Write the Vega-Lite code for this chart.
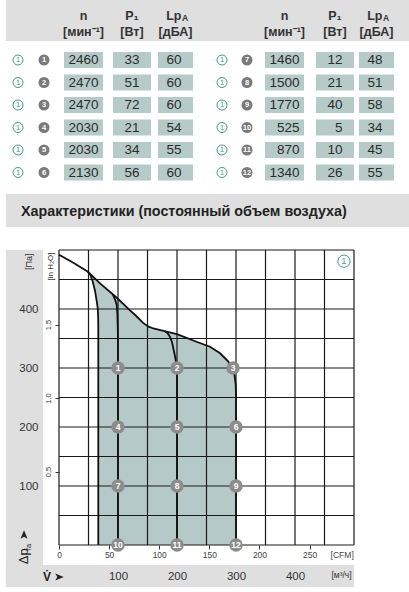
{
  "$schema": "https://vega.github.io/schema/vega-lite/v6.json",
  "width": 295,
  "height": 295,
  "autosize": {"type": "none"},
  "padding": {"left": 59, "top": 250, "right": 55, "bottom": 47},
  "background": "white",
  "config": {
    "view": {"stroke": null},
    "font": "Liberation Sans, Arial, sans-serif",
    "text": {"font": "Liberation Sans, Arial, sans-serif"}
  },
  "datasets": {
    "grid": [{"v":0},{"v":50},{"v":100},{"v":150},{"v":200},{"v":250},{"v":300},{"v":350},{"v":400},{"v":450},{"v":500}],
    "shade": [
      {"q":49,"t":463,"b":463},{"q":53,"t":459,"b":458},{"q":57,"t":455.5,"b":447},{"q":61,"t":451.5,"b":431},
      {"q":63.5,"t":449,"b":416},{"q":65.6,"t":447,"b":402},{"q":66.4,"t":446,"b":385},{"q":66.6,"t":446,"b":0},
      {"q":70,"t":443,"b":0},{"q":98,"t":419,"b":0},{"q":120,"t":398,"b":0},{"q":130,"t":389,"b":0},
      {"q":143,"t":376,"b":0},{"q":152,"t":370,"b":0},{"q":160,"t":367,"b":0},{"q":177,"t":363,"b":0},
      {"q":200,"t":357.5,"b":0},{"q":233,"t":344.5,"b":0},{"q":256,"t":336,"b":0},{"q":273,"t":325,"b":0},
      {"q":287,"t":311,"b":0},{"q":294,"t":298,"b":0},{"q":297.5,"t":288,"b":0},{"q":299.5,"t":272,"b":0},{"q":300,"t":255,"b":0}
    ],
    "curves": [
      {"s":"env","q":0,"p":492},{"s":"env","q":25,"p":478},{"s":"env","q":49,"p":463},{"s":"env","q":70,"p":443},
      {"s":"env","q":98,"p":419},{"s":"env","q":120,"p":398},{"s":"env","q":130,"p":389},{"s":"env","q":143,"p":376},
      {"s":"env","q":152,"p":370},{"s":"env","q":160,"p":367},{"s":"env","q":177,"p":363},{"s":"env","q":200,"p":357.5},
      {"s":"env","q":233,"p":344.5},{"s":"env","q":256,"p":336},{"s":"env","q":273,"p":325},{"s":"env","q":287,"p":311},
      {"s":"env","q":294,"p":298},{"s":"env","q":297.5,"p":288},{"s":"env","q":299.5,"p":272},{"s":"env","q":300,"p":255},{"s":"env","q":300,"p":0},
      {"s":"min","q":49,"p":463},{"s":"min","q":53,"p":458},{"s":"min","q":57,"p":447},{"s":"min","q":61,"p":431},
      {"s":"min","q":63.5,"p":416},{"s":"min","q":65.6,"p":402},{"s":"min","q":66.4,"p":385},{"s":"min","q":66.6,"p":365},{"s":"min","q":66.6,"p":0},
      {"s":"c1","q":91,"p":425},{"s":"c1","q":95,"p":416},{"s":"c1","q":97.8,"p":407},{"s":"c1","q":99,"p":390},
      {"s":"c1","q":99.6,"p":368},{"s":"c1","q":100,"p":340},{"s":"c1","q":100,"p":0},
      {"s":"c2","q":179,"p":362.5},{"s":"c2","q":184,"p":359},{"s":"c2","q":188,"p":353},{"s":"c2","q":191.5,"p":344},
      {"s":"c2","q":193.8,"p":333},{"s":"c2","q":197,"p":318},{"s":"c2","q":199,"p":305},{"s":"c2","q":199.8,"p":295},
      {"s":"c2","q":200,"p":280},{"s":"c2","q":200,"p":0}
    ],
    "ops": [
      {"pt":1,"q":100,"p":300},{"pt":2,"q":200,"p":300},{"pt":3,"q":295,"p":300},
      {"pt":4,"q":100,"p":200},{"pt":5,"q":200,"p":200},{"pt":6,"q":300,"p":200},
      {"pt":7,"q":100,"p":100},{"pt":8,"q":200,"p":100},{"pt":9,"q":300,"p":100},
      {"pt":10,"q":100,"p":0},{"pt":11,"q":200,"p":0},{"pt":12,"q":300,"p":0}
    ],
    "tv": [
      {"row":1,"col":3,"key":"n","txt":"2460"},{"row":1,"col":4,"key":"p","txt":"33"},{"row":1,"col":5,"key":"l","txt":"60"},
      {"row":2,"col":3,"key":"n","txt":"2470"},{"row":2,"col":4,"key":"p","txt":"51"},{"row":2,"col":5,"key":"l","txt":"60"},
      {"row":3,"col":3,"key":"n","txt":"2470"},{"row":3,"col":4,"key":"p","txt":"72"},{"row":3,"col":5,"key":"l","txt":"60"},
      {"row":4,"col":3,"key":"n","txt":"2030"},{"row":4,"col":4,"key":"p","txt":"21"},{"row":4,"col":5,"key":"l","txt":"54"},
      {"row":5,"col":3,"key":"n","txt":"2030"},{"row":5,"col":4,"key":"p","txt":"34"},{"row":5,"col":5,"key":"l","txt":"55"},
      {"row":6,"col":3,"key":"n","txt":"2130"},{"row":6,"col":4,"key":"p","txt":"56"},{"row":6,"col":5,"key":"l","txt":"60"},
      {"row":1,"col":8,"key":"n","txt":"1460"},{"row":1,"col":9,"key":"p","txt":"12"},{"row":1,"col":10,"key":"l","txt":"48"},
      {"row":2,"col":8,"key":"n","txt":"1500"},{"row":2,"col":9,"key":"p","txt":"21"},{"row":2,"col":10,"key":"l","txt":"51"},
      {"row":3,"col":8,"key":"n","txt":"1770"},{"row":3,"col":9,"key":"p","txt":"40"},{"row":3,"col":10,"key":"l","txt":"58"},
      {"row":4,"col":8,"key":"n","txt":"525"},{"row":4,"col":9,"key":"p","txt":"5"},{"row":4,"col":10,"key":"l","txt":"34"},
      {"row":5,"col":8,"key":"n","txt":"870"},{"row":5,"col":9,"key":"p","txt":"10"},{"row":5,"col":10,"key":"l","txt":"45"},
      {"row":6,"col":8,"key":"n","txt":"1340"},{"row":6,"col":9,"key":"p","txt":"26"},{"row":6,"col":10,"key":"l","txt":"55"}
    ],
    "badges": [
      {"row":1,"col":2,"pt":1},{"row":2,"col":2,"pt":2},{"row":3,"col":2,"pt":3},{"row":4,"col":2,"pt":4},{"row":5,"col":2,"pt":5},{"row":6,"col":2,"pt":6},
      {"row":1,"col":7,"pt":7},{"row":2,"col":7,"pt":8},{"row":3,"col":7,"pt":9},{"row":4,"col":7,"pt":10},{"row":5,"col":7,"pt":11},{"row":6,"col":7,"pt":12}
    ],
    "icons": [
      {"row":1,"col":1},{"row":2,"col":1},{"row":3,"col":1},{"row":4,"col":1},{"row":5,"col":1},{"row":6,"col":1},
      {"row":1,"col":6},{"row":2,"col":6},{"row":3,"col":6},{"row":4,"col":6},{"row":5,"col":6},{"row":6,"col":6}
    ],
    "th": [
      {"row":-1,"col":3,"txt":"n"},{"row":0,"col":3,"txt":"[мин⁻¹]"},
      {"row":-1,"col":4,"txt":"P₁"},{"row":0,"col":4,"txt":"[Вт]"},
      {"row":0,"col":5,"txt":"[дБА]"},
      {"row":-1,"col":8,"txt":"n"},{"row":0,"col":8,"txt":"[мин⁻¹]"},
      {"row":-1,"col":9,"txt":"P₁"},{"row":0,"col":9,"txt":"[Вт]"},
      {"row":0,"col":10,"txt":"[дБА]"}
    ],
    "thl": [{"row":-1,"col":5},{"row":-1,"col":10}]
  },
  "resolve": {"scale": {"x": "independent", "y": "independent"}},
  "layer": [
    {
      "layer": [
        {"data":{"values":[{}]},"mark":{"type":"rect","color":"#dfdfdf"},
         "encoding":{"x":{"datum":-90,"type":"quantitative","scale":{"domain":[0,500],"nice":false,"zero":false},"axis":null},"x2":{"datum":600},
                     "y":{"datum":930,"type":"quantitative","scale":{"domain":[0,500],"nice":false,"zero":false},"axis":null},"y2":{"datum":854.2}}},
        {"data":{"values":[{}]},"mark":{"type":"rect","color":"#dfdfdf"},
         "encoding":{"x":{"datum":-90,"type":"quantitative","scale":{"domain":[0,500],"nice":false,"zero":false},"axis":null},"x2":{"datum":600},
                     "y":{"datum":594.9,"type":"quantitative","scale":{"domain":[0,500],"nice":false,"zero":false},"axis":null},"y2":{"datum":539}}},
        {"data":{"values":[{}]},"mark":{"type":"rect","color":"#dfdfdf"},
         "encoding":{"x":{"datum":-90,"type":"quantitative","scale":{"domain":[0,500],"nice":false,"zero":false},"axis":null},"x2":{"datum":-27.1},
                     "y":{"datum":500,"type":"quantitative","scale":{"domain":[0,500],"nice":false,"zero":false},"axis":null},"y2":{"datum":-71.2}}},
        {"data":{"values":[{}]},"mark":{"type":"rect","color":"#dfdfdf"},
         "encoding":{"x":{"datum":-90,"type":"quantitative","scale":{"domain":[0,500],"nice":false,"zero":false},"axis":null},"x2":{"datum":500},
                     "y":{"datum":-33.9,"type":"quantitative","scale":{"domain":[0,500],"nice":false,"zero":false},"axis":null},"y2":{"datum":-71.2}}},
        {"data":{"name":"shade"},"mark":{"type":"area","color":"#b5cac8","opacity":1},
         "encoding":{"x":{"field":"q","type":"quantitative","scale":{"domain":[0,500],"nice":false,"zero":false},"axis":null},
                     "y":{"field":"t","type":"quantitative","scale":{"domain":[0,500],"nice":false,"zero":false},"axis":null},
                     "y2":{"field":"b"}}},
        {"data":{"name":"grid"},"mark":{"type":"rule","color":"#1a1a1a","strokeWidth":1.2},
         "encoding":{"x":{"field":"v","type":"quantitative","scale":{"domain":[0,500],"nice":false,"zero":false},"axis":null}}},
        {"data":{"name":"grid"},"mark":{"type":"rule","color":"#1a1a1a","strokeWidth":1.2},
         "encoding":{"y":{"field":"v","type":"quantitative","scale":{"domain":[0,500],"nice":false,"zero":false},"axis":null}}},
        {"data":{"name":"curves"},"mark":{"type":"line","color":"#111111","strokeWidth":1.8},
         "encoding":{"x":{"field":"q","type":"quantitative","scale":{"domain":[0,500],"nice":false,"zero":false},"axis":null},
                     "y":{"field":"p","type":"quantitative","scale":{"domain":[0,500],"nice":false,"zero":false},"axis":null},
                     "detail":{"field":"s","type":"nominal"},"order":{"value":null}}},
        {"data":{"name":"ops"},"mark":{"type":"point","shape":"circle","filled":true,"size":180,"color":"#8c8c8c","opacity":1},
         "encoding":{"x":{"field":"q","type":"quantitative","scale":{"domain":[0,500],"nice":false,"zero":false},"axis":null},
                     "y":{"field":"p","type":"quantitative","scale":{"domain":[0,500],"nice":false,"zero":false},"axis":null}}},
        {"data":{"name":"ops"},"mark":{"type":"text","color":"white","fontSize":8.5,"fontWeight":"bold","baseline":"middle","align":"center"},
         "encoding":{"x":{"field":"q","type":"quantitative","scale":{"domain":[0,500],"nice":false,"zero":false},"axis":null},
                     "y":{"field":"p","type":"quantitative","scale":{"domain":[0,500],"nice":false,"zero":false},"axis":null},
                     "text":{"field":"pt","type":"nominal"}}},
        {"data":{"values":[{}]},"mark":{"type":"point","shape":"circle","filled":true,"fill":"white","stroke":"#3f9a82","strokeWidth":1,"size":150,"opacity":1},
         "encoding":{"x":{"datum":483,"type":"quantitative","scale":{"domain":[0,500],"nice":false,"zero":false},"axis":null},
                     "y":{"datum":481,"type":"quantitative","scale":{"domain":[0,500],"nice":false,"zero":false},"axis":null}}},
        {"data":{"values":[{}]},"mark":{"type":"text","color":"#3f9a82","fontSize":8.5,"baseline":"middle","align":"center","text":"1"},
         "encoding":{"x":{"datum":483,"type":"quantitative","scale":{"domain":[0,500],"nice":false,"zero":false},"axis":null},
                     "y":{"datum":481,"type":"quantitative","scale":{"domain":[0,500],"nice":false,"zero":false},"axis":null}}},
        {"data":{"values":[{}]},"mark":{"type":"text","color":"#222222","fontSize":14.3,"fontWeight":"bold","baseline":"middle","align":"left","text":"Характеристики (постоянный объем воздуха)"},
         "encoding":{"x":{"datum":-64.4,"type":"quantitative","scale":{"domain":[0,500],"nice":false,"zero":false},"axis":null},
                     "y":{"datum":564.4,"type":"quantitative","scale":{"domain":[0,500],"nice":false,"zero":false},"axis":null}}},
        {"data":{"values":[{}]},"mark":{"type":"text","color":"#222222","fontSize":13,"angle":270,"baseline":"middle","align":"center","text":"Δp"},
         "encoding":{"x":{"datum":-59.3,"type":"quantitative","scale":{"domain":[0,500],"nice":false,"zero":false},"axis":null},
                     "y":{"datum":-19,"type":"quantitative","scale":{"domain":[0,500],"nice":false,"zero":false},"axis":null}}},
        {"data":{"values":[{}]},"mark":{"type":"text","color":"#222222","fontSize":7.5,"angle":270,"baseline":"middle","align":"center","text":"fa"},
         "encoding":{"x":{"datum":-50.8,"type":"quantitative","scale":{"domain":[0,500],"nice":false,"zero":false},"axis":null},
                     "y":{"datum":-3.4,"type":"quantitative","scale":{"domain":[0,500],"nice":false,"zero":false},"axis":null}}},
        {"data":{"values":[{}]},"mark":{"type":"point","shape":"M0,-1L0.75,0.8L0,0.35L-0.75,0.8Z","filled":true,"size":90,"color":"#222222","opacity":1},
         "encoding":{"x":{"datum":-59.3,"type":"quantitative","scale":{"domain":[0,500],"nice":false,"zero":false},"axis":null},
                     "y":{"datum":16.9,"type":"quantitative","scale":{"domain":[0,500],"nice":false,"zero":false},"axis":null}}},
        {"data":{"values":[{}]},"mark":{"type":"text","color":"#222222","fontSize":12,"fontWeight":"bold","baseline":"middle","align":"center","text":"V̇"},
         "encoding":{"x":{"datum":-20.3,"type":"quantitative","scale":{"domain":[0,500],"nice":false,"zero":false},"axis":null},
                     "y":{"datum":-54.2,"type":"quantitative","scale":{"domain":[0,500],"nice":false,"zero":false},"axis":null}}},
        {"data":{"values":[{}]},"mark":{"type":"point","shape":"M1,0L-0.8,0.75L-0.35,0L-0.8,-0.75Z","filled":true,"size":90,"color":"#222222","opacity":1},
         "encoding":{"x":{"datum":0,"type":"quantitative","scale":{"domain":[0,500],"nice":false,"zero":false},"axis":null},
                     "y":{"datum":-54.2,"type":"quantitative","scale":{"domain":[0,500],"nice":false,"zero":false},"axis":null}}}
      ]
    },
    {
      "data": {"values": [{"pa": 0}, {"pa": 500}]},
      "mark": {"type": "point", "opacity": 0},
      "encoding": {
        "y": {"field": "pa", "type": "quantitative", "scale": {"domain": [0, 500], "nice": false, "zero": false},
              "axis": {"zindex": 1, "orient": "left", "values": [100, 200, 300, 400], "domain": false, "ticks": false, "tickSize": 0, "grid": false,
                       "labelFontSize": 11.5, "labelColor": "#333333", "labelPadding": 21, "labelOverlap": false, "labelBaseline": "middle", "labelFlush": false,
                       "title": "[Па]", "titleFontSize": 9, "titleFontWeight": "normal", "titleColor": "#333333", "titleAngle": -90,
                       "titleX": -31, "titleY": 3, "titleAlign": "right", "titleBaseline": "middle"}}
      }
    },
    {
      "data": {"values": [{"h": 0}, {"h": 2.0073}]},
      "mark": {"type": "point", "opacity": 0},
      "encoding": {
        "y": {"field": "h", "type": "quantitative", "scale": {"domain": [0, 2.0073], "nice": false, "zero": false},
              "axis": {"zindex": 1, "orient": "left", "values": [0.5, 1, 1.5], "labelExpr": "replace(format(datum.value, '.1f'), '.', ',')",
                       "domain": false, "grid": false, "ticks": true, "tickSize": 4, "tickColor": "#333333", "tickWidth": 1,
                       "labelAngle": -90, "labelAlign": "center", "labelBaseline": "bottom", "labelFontSize": 7.5, "labelColor": "#333333",
                       "labelPadding": 3, "labelOverlap": false, "labelFlush": false,
                       "title": "[in H₂O]", "titleFontSize": 8, "titleFontWeight": "normal", "titleColor": "#333333", "titleAngle": -90,
                       "titleX": -9, "titleY": 2, "titleAlign": "right", "titleBaseline": "middle"}}
      }
    },
    {
      "data": {"values": [{"c": 0}, {"c": 294.29}]},
      "mark": {"type": "point", "opacity": 0},
      "encoding": {
        "x": {"field": "c", "type": "quantitative", "scale": {"domain": [0, 294.29], "nice": false, "zero": false},
              "axis": {"zindex": 1, "orient": "bottom", "values": [0, 50, 100, 150, 200, 250, 282],
                       "labelExpr": "datum.value > 260 ? '[CFM]' : datum.label",
                       "domain": false, "grid": false, "ticks": true, "tickSize": 4, "tickColor": "#333333", "tickWidth": 1,
                       "tickOpacity": {"condition": {"test": "datum.value > 260", "value": 0}, "value": 1},
                       "labelFontSize": 8.5, "labelColor": "#444444", "labelPadding": 1, "labelOverlap": false, "labelFlush": false, "title": null}}
      }
    },
    {
      "data": {"values": [{"q": 0}, {"q": 500}]},
      "mark": {"type": "point", "opacity": 0},
      "encoding": {
        "x": {"field": "q", "type": "quantitative", "scale": {"domain": [0, 500], "nice": false, "zero": false},
              "axis": {"zindex": 1, "orient": "bottom", "values": [100, 200, 300, 400, 478],
                       "labelExpr": "datum.value > 450 ? '[м³/ч]' : datum.label",
                       "labelFontSize": {"condition": {"test": "datum.value > 450", "value": 8.5}, "value": 11.5},
                       "domain": false, "grid": false, "ticks": false, "tickSize": 0,
                       "labelColor": "#333333", "labelPadding": 25, "labelOverlap": false, "labelFlush": false, "title": null}}
      }
    },
    {
      "layer": [
        {"data":{"name":"tv"},"transform":[{"filter":"datum.key == 'n'"}],
         "mark":{"type":"point","shape":"M-1,-0.41H1V0.41H-1Z","filled":true,"size":1521,"color":"#b6cbc8","opacity":1},
         "encoding":{"x":{"field":"col","type":"quantitative","scale":{"domain":[1,2,3,4,5,6,7,8,9,10],"range":[-41,-15,24.5,73,116.5,163,188,225.5,276,317.5],"nice":false,"zero":false},"axis":null},
                     "y":{"field":"row","type":"quantitative","scale":{"domain":[-1,0,1,6],"range":[-234,-218,-190,-77.5],"nice":false,"zero":false},"axis":null}}},
        {"data":{"name":"tv"},"transform":[{"filter":"datum.key == 'p'"}],
         "mark":{"type":"point","shape":"M-1,-0.42H1V0.42H-1Z","filled":true,"size":1444,"color":"#b6cbc8","opacity":1},
         "encoding":{"x":{"field":"col","type":"quantitative","scale":{"domain":[1,2,3,4,5,6,7,8,9,10],"range":[-41,-15,24.5,73,116.5,163,188,225.5,276,317.5],"nice":false,"zero":false},"axis":null},
                     "y":{"field":"row","type":"quantitative","scale":{"domain":[-1,0,1,6],"range":[-234,-218,-190,-77.5],"nice":false,"zero":false},"axis":null}}},
        {"data":{"name":"tv"},"transform":[{"filter":"datum.key == 'l'"}],
         "mark":{"type":"point","shape":"M-1,-0.457H1V0.457H-1Z","filled":true,"size":1225,"color":"#b6cbc8","opacity":1},
         "encoding":{"x":{"field":"col","type":"quantitative","scale":{"domain":[1,2,3,4,5,6,7,8,9,10],"range":[-41,-15,24.5,73,116.5,163,188,225.5,276,317.5],"nice":false,"zero":false},"axis":null},
                     "y":{"field":"row","type":"quantitative","scale":{"domain":[-1,0,1,6],"range":[-234,-218,-190,-77.5],"nice":false,"zero":false},"axis":null}}},
        {"data":{"name":"tv"},"transform":[{"filter":"datum.key == 'n'"}],
         "mark":{"type":"text","align":"right","dx":15,"baseline":"middle","fontSize":13.5,"color":"#2b2b2b"},
         "encoding":{"x":{"field":"col","type":"quantitative","scale":{"domain":[1,2,3,4,5,6,7,8,9,10],"range":[-41,-15,24.5,73,116.5,163,188,225.5,276,317.5],"nice":false,"zero":false},"axis":null},
                     "y":{"field":"row","type":"quantitative","scale":{"domain":[-1,0,1,6],"range":[-234,-218,-190,-77.5],"nice":false,"zero":false},"axis":null},
                     "text":{"field":"txt","type":"nominal"}}},
        {"data":{"name":"tv"},"transform":[{"filter":"datum.key == 'p'"}],
         "mark":{"type":"text","align":"right","dx":7.5,"baseline":"middle","fontSize":13.5,"color":"#2b2b2b"},
         "encoding":{"x":{"field":"col","type":"quantitative","scale":{"domain":[1,2,3,4,5,6,7,8,9,10],"range":[-41,-15,24.5,73,116.5,163,188,225.5,276,317.5],"nice":false,"zero":false},"axis":null},
                     "y":{"field":"row","type":"quantitative","scale":{"domain":[-1,0,1,6],"range":[-234,-218,-190,-77.5],"nice":false,"zero":false},"axis":null},
                     "text":{"field":"txt","type":"nominal"}}},
        {"data":{"name":"tv"},"transform":[{"filter":"datum.key == 'l'"}],
         "mark":{"type":"text","align":"right","dx":6,"baseline":"middle","fontSize":13.5,"color":"#2b2b2b"},
         "encoding":{"x":{"field":"col","type":"quantitative","scale":{"domain":[1,2,3,4,5,6,7,8,9,10],"range":[-41,-15,24.5,73,116.5,163,188,225.5,276,317.5],"nice":false,"zero":false},"axis":null},
                     "y":{"field":"row","type":"quantitative","scale":{"domain":[-1,0,1,6],"range":[-234,-218,-190,-77.5],"nice":false,"zero":false},"axis":null},
                     "text":{"field":"txt","type":"nominal"}}},
        {"data":{"name":"badges"},
         "mark":{"type":"point","shape":"circle","filled":true,"size":121,"color":"#7a7a7a","opacity":1},
         "encoding":{"x":{"field":"col","type":"quantitative","scale":{"domain":[1,2,3,4,5,6,7,8,9,10],"range":[-41,-15,24.5,73,116.5,163,188,225.5,276,317.5],"nice":false,"zero":false},"axis":null},
                     "y":{"field":"row","type":"quantitative","scale":{"domain":[-1,0,1,6],"range":[-234,-218,-190,-77.5],"nice":false,"zero":false},"axis":null}}},
        {"data":{"name":"badges"},
         "mark":{"type":"text","align":"center","baseline":"middle","fontSize":7.5,"fontWeight":"bold","color":"white"},
         "encoding":{"x":{"field":"col","type":"quantitative","scale":{"domain":[1,2,3,4,5,6,7,8,9,10],"range":[-41,-15,24.5,73,116.5,163,188,225.5,276,317.5],"nice":false,"zero":false},"axis":null},
                     "y":{"field":"row","type":"quantitative","scale":{"domain":[-1,0,1,6],"range":[-234,-218,-190,-77.5],"nice":false,"zero":false},"axis":null},
                     "text":{"field":"pt","type":"nominal"}}},
        {"data":{"name":"icons"},
         "mark":{"type":"point","shape":"circle","filled":false,"size":100,"stroke":"#3f9a82","strokeWidth":1,"opacity":1},
         "encoding":{"x":{"field":"col","type":"quantitative","scale":{"domain":[1,2,3,4,5,6,7,8,9,10],"range":[-41,-15,24.5,73,116.5,163,188,225.5,276,317.5],"nice":false,"zero":false},"axis":null},
                     "y":{"field":"row","type":"quantitative","scale":{"domain":[-1,0,1,6],"range":[-234,-218,-190,-77.5],"nice":false,"zero":false},"axis":null}}},
        {"data":{"name":"icons"},
         "mark":{"type":"text","align":"center","baseline":"middle","fontSize":7.5,"color":"#3f9a82","text":"1"},
         "encoding":{"x":{"field":"col","type":"quantitative","scale":{"domain":[1,2,3,4,5,6,7,8,9,10],"range":[-41,-15,24.5,73,116.5,163,188,225.5,276,317.5],"nice":false,"zero":false},"axis":null},
                     "y":{"field":"row","type":"quantitative","scale":{"domain":[-1,0,1,6],"range":[-234,-218,-190,-77.5],"nice":false,"zero":false},"axis":null}}},
        {"data":{"name":"th"},
         "mark":{"type":"text","align":"center","baseline":"middle","fontSize":12.5,"fontWeight":"bold","color":"#333333"},
         "encoding":{"x":{"field":"col","type":"quantitative","scale":{"domain":[1,2,3,4,5,6,7,8,9,10],"range":[-41,-15,24.5,73,116.5,163,188,225.5,276,317.5],"nice":false,"zero":false},"axis":null},
                     "y":{"field":"row","type":"quantitative","scale":{"domain":[-1,0,1,6],"range":[-234,-218,-190,-77.5],"nice":false,"zero":false},"axis":null},
                     "text":{"field":"txt","type":"nominal"}}},
        {"data":{"name":"thl"},
         "mark":{"type":"text","align":"right","dx":6,"baseline":"middle","fontSize":12.5,"fontWeight":"bold","color":"#333333","text":"Lp"},
         "encoding":{"x":{"field":"col","type":"quantitative","scale":{"domain":[1,2,3,4,5,6,7,8,9,10],"range":[-41,-15,24.5,73,116.5,163,188,225.5,276,317.5],"nice":false,"zero":false},"axis":null},
                     "y":{"field":"row","type":"quantitative","scale":{"domain":[-1,0,1,6],"range":[-234,-218,-190,-77.5],"nice":false,"zero":false},"axis":null}}},
        {"data":{"name":"thl"},
         "mark":{"type":"text","align":"left","dx":6.5,"dy":2,"baseline":"middle","fontSize":8.5,"fontWeight":"bold","color":"#333333","text":"A"},
         "encoding":{"x":{"field":"col","type":"quantitative","scale":{"domain":[1,2,3,4,5,6,7,8,9,10],"range":[-41,-15,24.5,73,116.5,163,188,225.5,276,317.5],"nice":false,"zero":false},"axis":null},
                     "y":{"field":"row","type":"quantitative","scale":{"domain":[-1,0,1,6],"range":[-234,-218,-190,-77.5],"nice":false,"zero":false},"axis":null}}}
      ]
    }
  ]
}
